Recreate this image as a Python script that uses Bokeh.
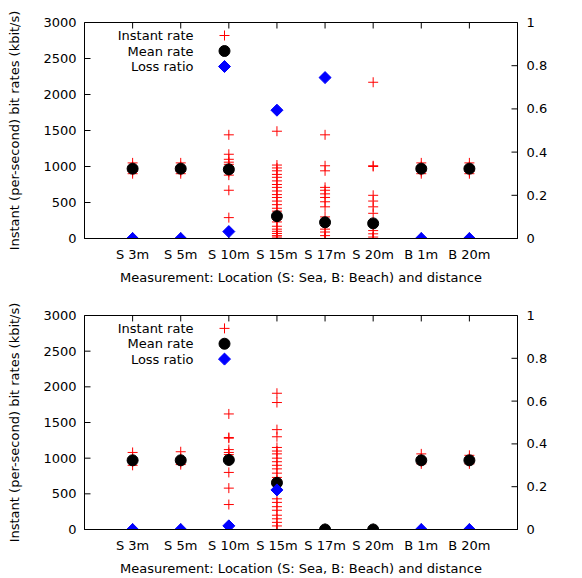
import math
from bokeh.plotting import figure
from bokeh.models import Range1d, LinearAxis, FixedTicker, Label
from bokeh.layouts import column
from bokeh.core.properties import value
from bokeh.embed import file_html
from bokeh.resources import INLINE

NAN = float("nan")

categories = ["S 3m", "S 5m", "S 10m", "S 15m", "S 17m", "S 20m", "B 1m", "B 20m"]
rate_ticks = [0, 500, 1000, 1500, 2000, 2500, 3000]
loss_ticks = [0, 0.2, 0.4, 0.6, 0.8, 1]
loss_tick_labels = ["0", "0.2", "0.4", "0.6", "0.8", "1"]
legend_labels = ["Instant rate", "Mean rate", "Loss ratio"]

x_title = "Measurement: Location (S: Sea, B: Beach) and distance"
y_title = "Instant (per-second) bit rates (kbit/s)"
y2_title = "Fraction of packets lost"

# ---- top panel ----
top_instant = [
    [1050, 1000, 980, 970, 960, 950, 930, 900],
    [1050, 1000, 980, 970, 960, 950, 930, 900],
    [1440, 1170, 1100, 1060, 1030, 1000, 980, 950, 920, 880, 670, 290],
    [1490, 1020, 980, 940, 890, 850, 800, 750, 710, 660, 610, 570, 520, 470,
     420, 380, 330, 270, 230, 170, 130, 100, 70, 40, 20, 0],
    [1440, 1010, 940, 710, 670, 620, 570, 510, 440, 300, 230, 180, 130, 90, 40, 0],
    [2170, 1010, 1000, 600, 520, 440, 350, 110, 65, 20, 0],
    [1050, 1000, 980, 970, 960, 950, 930, 900],
    [1050, 1000, 980, 970, 960, 950, 930, 900],
]
top_mean = [970, 970, 960, 310, 225, 210, 970, 970]
top_loss = [0, 0, 0.032, 0.594, 0.745, NAN, 0, 0]

# ---- bottom panel ----
bottom_instant = [
    [1080, 1000, 970, 950, 900],
    [1090, 1000, 970, 940, 910],
    [1620, 1290, 1280, 1120, 1080, 1050, 1000, 960, 800, 580, 350],
    [1910, 1780, 1400, 1300, 1150, 1100, 1060, 1000, 950, 900, 850, 790, 730,
     690, 620, 560, 430, 380, 320, 270, 200, 150, 100, 50, 0],
    [0],
    [0],
    [1060, 1000, 970, 950, 920],
    [1040, 1000, 970, 950, 920],
]
bottom_mean = [970, 970, 975, 655, 0, 0, 970, 970]
bottom_loss = [0, 0, 0.017, 0.185, NAN, NAN, 0, 0]

FONT = "DejaVu Sans"
FS = "13px"
FRAME_W, FRAME_H = 433, 216
TICK = 6


def style_axis(ax):
    ax.major_tick_in = 0
    ax.major_tick_out = 0
    ax.minor_tick_in = 0
    ax.minor_tick_out = 0
    ax.axis_line_color = "black"
    ax.major_label_text_font = FONT
    ax.major_label_text_font_size = FS
    ax.major_label_text_color = "black"
    ax.axis_label_text_font = FONT
    ax.axis_label_text_font_size = FS
    ax.axis_label_text_font_style = "normal"
    ax.axis_label_text_color = "black"


def add_diamonds(p, xs, ys, **kw):
    p.scatter(xs, ys, marker="square", angle=math.pi / 4, size=8.5,
              fill_color="#0000ff", line_color="#0000ff", **kw)


def make_panel(instant, mean, loss, height, border_bottom):
    n = len(categories)
    positions = list(range(1, n + 1))
    p = figure(width=582, height=height, output_backend="svg", toolbar_location=None,
               x_range=Range1d(0, n + 1), y_range=Range1d(0, 3000),
               min_border_left=84, min_border_right=65, min_border_top=22,
               min_border_bottom=border_bottom, x_axis_type=None, y_axis_type=None)
    p.xgrid.visible = False
    p.ygrid.visible = False
    p.outline_line_color = "black"
    p.outline_line_alpha = 1.0
    p.background_fill_color = "white"
    p.border_fill_color = "white"
    p.extra_y_ranges = {"loss": Range1d(0, 1), "key": Range1d(0, FRAME_H)}
    p.extra_x_ranges = {"key": Range1d(0, FRAME_W)}

    # bottom axis
    xb = LinearAxis(ticker=FixedTicker(ticks=positions),
                    major_label_overrides={pos: c for pos, c in zip(positions, categories)},
                    axis_label=x_title)
    style_axis(xb)
    xb.major_label_standoff = 8
    xb.axis_label_standoff = 5
    p.add_layout(xb, "below")
    # left axis
    yl = LinearAxis(ticker=FixedTicker(ticks=rate_ticks), axis_label=y_title)
    style_axis(yl)
    yl.major_label_standoff = 8
    yl.axis_label_standoff = 18
    p.add_layout(yl, "left")
    # right axis
    yr = LinearAxis(y_range_name="loss", ticker=FixedTicker(ticks=loss_ticks),
                    major_label_overrides={t: s for t, s in zip(loss_ticks, loss_tick_labels)})
    style_axis(yr)
    yr.major_label_standoff = 9
    p.add_layout(yr, "right")
    p.add_layout(Label(x=n + 1, y=1650, x_offset=58, text=y2_title, angle=math.pi / 2,
                       text_align="center", text_baseline="middle", text_font=FONT,
                       text_font_size=FS, text_color="black"))

    # inward tick marks (gnuplot style)
    p.segment(x0=positions, x1=positions, y0=[0] * n, y1=[TICK] * n,
              y_range_name="key", line_color="black", line_width=1)
    p.segment(x0=positions, x1=positions, y0=[FRAME_H] * n, y1=[FRAME_H - TICK] * n,
              y_range_name="key", line_color="black", line_width=1)
    nl = len(rate_ticks)
    p.segment(x0=[0] * nl, x1=[TICK] * nl, y0=rate_ticks, y1=rate_ticks,
              x_range_name="key", line_color="black", line_width=1)
    nr = len(loss_ticks)
    p.segment(x0=[FRAME_W] * nr, x1=[FRAME_W - TICK] * nr, y0=loss_ticks, y1=loss_ticks,
              x_range_name="key", y_range_name="loss", line_color="black", line_width=1)

    # data
    ix, iy = [], []
    for pos, vals in zip(positions, instant):
        for v in vals:
            ix.append(pos)
            iy.append(v)
    p.scatter(ix, iy, marker="cross", size=10, line_color="#ff0000", line_width=1)
    p.scatter(positions, mean, marker="circle", size=11, fill_color="black", line_color="black")
    lx = [pos for pos, v in zip(positions, loss) if not math.isnan(v)]
    ly = [v for v in loss if not math.isnan(v)]
    add_diamonds(p, lx, ly, y_range_name="loss")

    # key (gnuplot-style, text left of sample)
    ky = [FRAME_H - 13, FRAME_H - 28.5, FRAME_H - 44]
    p.text(x=[109] * 3, y=ky, text=legend_labels, x_range_name="key", y_range_name="key",
           text_align="right", text_baseline="middle", text_font=value(FONT),
           text_font_size=value(FS), text_color="black")
    p.scatter([140], [ky[0]], marker="cross", size=10, line_color="#ff0000", line_width=1,
              x_range_name="key", y_range_name="key")
    p.scatter([140], [ky[1]], marker="circle", size=11, fill_color="black", line_color="black",
              x_range_name="key", y_range_name="key")
    add_diamonds(p, [140], [ky[2]], x_range_name="key", y_range_name="key")
    return p


p1 = make_panel(top_instant, top_mean, top_loss, 293, 55)
p2 = make_panel(bottom_instant, bottom_mean, bottom_loss, 285, 47)
layout = column(p1, p2, spacing=0)

open("out.html", "w").write(file_html(layout, INLINE))
